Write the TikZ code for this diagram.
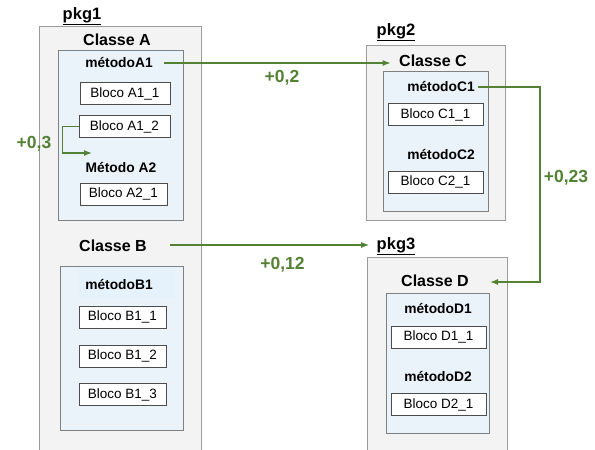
\documentclass[tikz,border=0pt]{standalone}
\usepackage{fontspec}
\setmainfont{Liberation Sans}
\usetikzlibrary{arrows.meta}
\definecolor{verde}{RGB}{84,130,53}
\definecolor{cinzafundo}{RGB}{243,243,243}
\definecolor{cinzaborda}{RGB}{155,155,155}
\definecolor{azulfundo}{RGB}{235,243,250}
\definecolor{azuldestaque}{RGB}{229,242,252}
\begin{document}
\begin{tikzpicture}[x=1pt, y=-1pt,
        pacote/.style={draw=cinzaborda, fill=cinzafundo, line width=1pt}, % caixa cinza do pacote
        metodos/.style={draw=gray, fill=azulfundo, line width=0.8pt}, % caixa azul dos metodos
        bloco/.style={draw=black!70, fill=white, line width=0.8pt, minimum height=22pt,
            inner sep=0pt, font=\fontsize{13.5}{15}\selectfont},
        nomepkg/.style={font=\bfseries\fontsize{16.5}{18}\selectfont},
        classe/.style={font=\bfseries\fontsize{16}{18}\selectfont},
        metodo/.style={font=\bfseries\fontsize{13.8}{16}\selectfont},
        peso/.style={text=verde, font=\bfseries\fontsize{17.5}{19}\selectfont},
        seta/.style={draw=verde, line width=1.3pt, -{Latex[length=8pt,width=6pt]}}
    ]
    \useasboundingbox (0,0) rectangle (595,450);
    \clip (0,0) rectangle (595,450);

    % pkg1
    \node[nomepkg] (pk1) at (82,16) {\underline{pkg1}};
    \node[pacote, minimum width=162pt, minimum height=434pt] (caixa1) at (120,243) {};
    \node[classe] (clA) at (117,40) {Classe A};
    \node[metodos, minimum width=125pt, minimum height=170pt] (corpoA) at (120.5,135) {};
    \node[metodo] (mA1) at (119,63) {métodoA1};
    \node[bloco, minimum width=90pt] (blA11) at (125,93.5) {Bloco A1\_1};
    \node[bloco, minimum width=91pt] (blA12) at (124.5,126.5) {Bloco A1\_2};
    \node[metodo] (mA2) at (121,168) {Método A2};
    \node[bloco, minimum width=87pt] (blA21) at (123.5,194) {Bloco A2\_1};
    \node[classe] (clB) at (113,246) {Classe B};
    \node[metodos, minimum width=123pt, minimum height=164pt] (corpoB) at (121.5,348) {};
    \node[fill=azuldestaque, minimum width=97pt, minimum height=30pt] (realceB) at (126.5,283) {};
    \node[metodo] (mB1) at (119,285) {métodoB1};
    \node[bloco, minimum width=87pt] (blB11) at (122.5,317) {Bloco B1\_1};
    \node[bloco, minimum width=87pt] (blB12) at (122.5,356) {Bloco B1\_2};
    \node[bloco, minimum width=87pt] (blB13) at (122.5,394.5) {Bloco B1\_3};

    % pkg2
    \node[nomepkg] (pk2) at (396,32) {\underline{pkg2}};
    \node[pacote, minimum width=139pt, minimum height=175pt] (caixa2) at (435.5,132.5) {};
    \node[classe] (clC) at (433,61) {Classe C};
    \node[metodos, minimum width=105pt, minimum height=140pt] (corpoC) at (435.5,141) {};
    \node[metodo] (mC1) at (441,87) {métodoC1};
    \node[bloco, minimum width=95pt] (blC11) at (435.5,114.5) {Bloco C1\_1};
    \node[metodo] (mC2) at (441,155) {métodoC2};
    \node[bloco, minimum width=95pt] (blC21) at (435.5,182) {Bloco C2\_1};

    % pkg3
    \node[nomepkg] (pk3) at (396,246) {\underline{pkg3}};
    \node[pacote, minimum width=140pt, minimum height=203pt] (caixa3) at (437,358.5) {};
    \node[classe] (clD) at (435,281) {Classe D};
    \node[metodos, minimum width=103pt, minimum height=140pt] (corpoD) at (437.5,363) {};
    \node[metodo] (mD1) at (438,309) {métodoD1};
    \node[bloco, minimum width=95pt] (blD11) at (438.5,337) {Bloco D1\_1};
    \node[metodo] (mD2) at (438,377) {métodoD2};
    \node[bloco, minimum width=95pt] (blD21) at (438.5,404.5) {Bloco D2\_1};

    % dependencias
    \coordinate (fimA) at (92,153);
    \coordinate (dobra) at (540,282);
    \coordinate (pontaD) at (490,282);
    \draw[seta] (blA12.west) -- ++(-16,0) |- (fimA);
    \draw[seta] ([xshift=8pt]mA1.east) -- ([xshift=-5pt]mA1.east -| clC.west);
    \draw[seta] ([xshift=20pt,yshift=1pt]clB.east) -- ([xshift=-4pt,yshift=1pt]clB.east -| pk3.west);
    \draw[seta] (mC1.east) -| (dobra) -- (pontaD);

    \node[peso] (p1) at (34,144) {+0,3};
    \node[peso] (p2) at (282,78) {+0,2};
    \node[peso] (p3) at (282.5,265) {+0,12};
    \node[peso] (p4) at (566,178) {+0,23};
\end{tikzpicture}
\end{document}
